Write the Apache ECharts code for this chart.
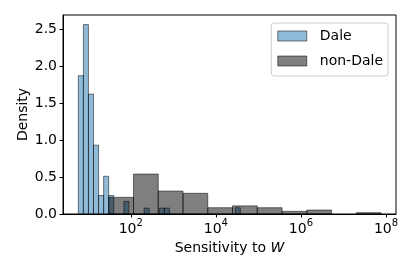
<!DOCTYPE html>
<html><head><meta charset="utf-8">
<script src="https://cdn.jsdelivr.net/npm/echarts@6/dist/echarts.min.js"></script>
<style>html,body{margin:0;padding:0;background:#fff}#c{width:415px;height:277px}</style>
</head><body><div id="c"></div>
<script>
// x values are log10(sensitivity)
const daleBinStart = 0.767, daleBinWidth = 0.119;
const daleDensity = [1.87, 2.56, 1.62, 0.93, 0.25, 0.51, 0.25, 0, 0, 0.17, 0, 0, 0, 0.08, 0, 0, 0.08, 0.08,
  0, 0, 0, 0, 0, 0, 0, 0, 0, 0, 0, 0, 0, 0.085];
const nonDaleBinStart = 1.482, nonDaleBinWidth = 0.582;
const nonDaleDensity = [0.225, 0.54, 0.31, 0.28, 0.085, 0.11, 0.085, 0.036, 0.054, 0, 0.018];
const xTickExponents = [2, 4, 6, 8];
const yTicks = [0, 0.5, 1.0, 1.5, 2.0, 2.5];

function toBins(start, width, dens) {
  const out = [];
  dens.forEach((d, i) => { if (d > 0) out.push([start + i * width, start + (i + 1) * width, d]); });
  return out;
}
function renderBar(fill) {
  return function (params, api) {
    const p0 = api.coord([api.value(0), api.value(2)]);
    const p1 = api.coord([api.value(1), 0]);
    return {
      type: 'rect',
      shape: { x: p0[0], y: p0[1], width: p1[0] - p0[0], height: p1[1] - p0[1] },
      style: { fill: fill, stroke: 'rgba(0,0,0,0.5)', lineWidth: 1 }
    };
  };
}
const blueFill = 'rgba(31,119,180,0.5)';
const greyFill = 'rgba(0,0,0,0.5)';
const font = 'DejaVu Sans';
const chart = echarts.init(document.getElementById('c'), null, { renderer: 'canvas' });
chart.setOption({
  animation: false,
  backgroundColor: '#fff',
  textStyle: { fontFamily: font },
  grid: { left: 63, right: 19, top: 15, bottom: 63, show: true, borderColor: '#000', borderWidth: 1, backgroundColor: 'transparent' },
  legend: {
    orient: 'vertical', right: 27, top: 23, itemWidth: 29, itemHeight: 10, itemGap: 11,
    padding: [6, 5, 8, 6], borderColor: '#ccc', borderWidth: 1, borderRadius: 3,
    textStyle: { fontFamily: font, fontSize: 14, color: '#000', padding: [0, 0, 0, 8] },
    data: [{ name: 'Dale', icon: 'rect', itemStyle: { color: blueFill, borderColor: 'rgba(0,0,0,0.5)', borderWidth: 1 } },
           { name: 'non-Dale', icon: 'rect', itemStyle: { color: greyFill, borderColor: 'rgba(0,0,0,0.5)', borderWidth: 1 } }]
  },
  xAxis: {
    type: 'value', min: 0.407, max: 8.235,
    name: 'Sensitivity to {i|W}', nameLocation: 'middle', nameGap: 26,
    nameTextStyle: { fontFamily: font, fontSize: 14, color: '#000', rich: { i: { fontFamily: font, fontStyle: 'italic', fontSize: 14 } } },
    axisLine: { show: true, onZero: false, lineStyle: { color: '#000' } },
    axisTick: { show: true, length: 3.5, customValues: xTickExponents, lineStyle: { color: '#000' } },
    axisLabel: {
      customValues: xTickExponents, margin: 4, color: '#000',
      formatter: v => '{b|10}{s|' + v + '}',
      rich: { b: { fontFamily: font, fontSize: 14, color: '#000', lineHeight: 18, verticalAlign: 'bottom' },
              s: { fontFamily: font, fontSize: 10, color: '#000', lineHeight: 18, verticalAlign: 'top' } }
    },
    splitLine: { show: false }
  },
  yAxis: {
    type: 'value', min: 0, max: 2.69,
    name: 'Density', nameLocation: 'middle', nameGap: 33, nameMoveOverlap: false,
    nameTextStyle: { fontFamily: font, fontSize: 14, color: '#000' },
    axisLine: { show: true, lineStyle: { color: '#000' } },
    axisTick: { show: true, length: 3.5, customValues: yTicks, lineStyle: { color: '#000' } },
    axisLabel: { customValues: yTicks, fontFamily: font, fontSize: 14, color: '#000', margin: 6, formatter: v => v.toFixed(1) },
    splitLine: { show: false }
  },
  series: [
    { name: 'Dale', type: 'custom', renderItem: renderBar(blueFill), itemStyle: { color: blueFill },
      encode: { x: [0, 1], y: 2 }, data: toBins(daleBinStart, daleBinWidth, daleDensity), z: 2 },
    { name: 'non-Dale', type: 'custom', renderItem: renderBar(greyFill), itemStyle: { color: greyFill },
      encode: { x: [0, 1], y: 2 }, data: toBins(nonDaleBinStart, nonDaleBinWidth, nonDaleDensity), z: 3 }
  ]
});
</script></body></html>
